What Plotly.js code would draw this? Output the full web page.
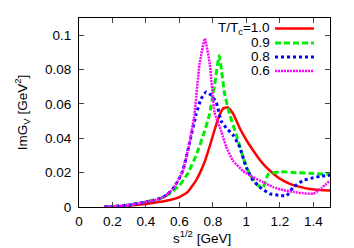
<!DOCTYPE html>
<html><head><meta charset="utf-8">
<script src="https://cdn.plot.ly/plotly-3.0.1.min.js"></script>
<style>html,body{margin:0;padding:0;background:#fff}#c{width:354px;height:248px}</style>
</head><body><div id="c"></div>
<script>
const seriesNames = ["T/T<sub>c</sub>=1.0", "0.9", "0.8", "0.6"];
const xTitle = "s<sup>1/2</sup> [GeV]";
const yTitle = "ImG<sub>V</sub> [GeV<sup>2</sup>]";
const xTickVals = [0, 0.2, 0.4, 0.6, 0.8, 1, 1.2, 1.4];
const xTickText = ["0", "0.2", "0.4", "0.6", "0.8", "1", "1.2", "1.4"];
const yTickVals = [0, 0.02, 0.04, 0.06, 0.08, 0.1];
const yTickText = ["0", "0.02", "0.04", "0.06", "0.08", "0.1"];

const xT10 = [0.15,0.2,0.3,0.4,0.45,0.5,0.55,0.6,0.65,0.7,0.75,0.78,0.83,0.86,0.89,0.92,0.96,1.0,1.04,1.08,1.12,1.16,1.2,1.26,1.32,1.38,1.44,1.5];
const yT10 = [0,0.0002,0.0008,0.0018,0.0025,0.0032,0.0042,0.0058,0.0088,0.0155,0.026,0.035,0.051,0.0572,0.058,0.0545,0.046,0.039,0.033,0.0275,0.023,0.0195,0.0165,0.0135,0.0117,0.0105,0.0099,0.0096];

const xT09 = [0.15,0.2,0.3,0.4,0.5,0.55,0.6,0.65,0.7,0.75,0.78,0.81,0.838,0.87,0.9,0.94,0.98,1.02,1.07,1.1,1.13,1.2,1.3,1.4,1.5];
const yT09 = [0,0.0003,0.0012,0.003,0.0055,0.0085,0.0125,0.0195,0.030,0.044,0.054,0.071,0.088,0.066,0.054,0.042,0.029,0.019,0.0125,0.0115,0.019,0.0205,0.02,0.0195,0.019];

const xT08 = [0.15,0.2,0.3,0.4,0.45,0.5,0.53,0.56,0.59,0.62,0.66,0.7,0.73,0.76,0.79,0.82,0.85,0.88,0.92,0.96,1.0,1.04,1.08,1.14,1.2,1.24,1.28,1.34,1.4,1.45,1.5];
const yT08 = [0,0.0003,0.0012,0.003,0.004,0.0055,0.0075,0.0105,0.015,0.021,0.037,0.054,0.063,0.067,0.065,0.061,0.05,0.046,0.042,0.035,0.023,0.0155,0.0116,0.0077,0.0068,0.0065,0.0115,0.0155,0.017,0.018,0.0185];

const xT06 = [0.15,0.2,0.3,0.4,0.45,0.5,0.53,0.56,0.59,0.62,0.66,0.69,0.72,0.752,0.782,0.81,0.85,0.88,0.92,0.98,1.04,1.1,1.16,1.22,1.28,1.34,1.4,1.45,1.5];
const yT06 = [0,0.0003,0.0012,0.003,0.004,0.0055,0.0075,0.0105,0.015,0.021,0.037,0.054,0.083,0.098,0.083,0.055,0.044,0.035,0.027,0.021,0.0173,0.0145,0.0116,0.0098,0.0088,0.008,0.0077,0.011,0.0155];

const colors = ["#ff0000", "#00ee00", "#0000ff", "#ff00ff"];
const dashes = ["solid", "6px,3px", "3px,3px", "2px,1px"];
const widths = [2.5, 3, 3, 2.5];
const xs = [xT10, xT09, xT08, xT06];
const ys = [yT10, yT09, yT08, yT06];

const traces = xs.map((x, i) => ({
  x: x, y: ys[i], type: "scatter", mode: "lines", name: seriesNames[i],
  line: {color: colors[i], width: widths[i], dash: dashes[i], shape: "spline", smoothing: 0.4},
  showlegend: false
}));

const font = {family: "Liberation Sans, Arial, sans-serif", size: 13.5, color: "#000"};
const legY = [0.944, 0.868, 0.794, 0.720];
const annotations = seriesNames.map((n, i) => ({
  xref: "paper", yref: "paper", x: 0.763, y: legY[i], text: n, showarrow: false,
  xanchor: "right", yanchor: "middle", font: font, borderpad: 0
}));
annotations.push({xref: "paper", yref: "paper", x: 0.49, y: -0.16, text: xTitle, showarrow: false,
  xanchor: "center", yanchor: "middle", font: font, borderpad: 0});
const shapes = seriesNames.map((n, i) => ({
  type: "line", xref: "paper", yref: "paper", x0: 0.781, x1: 0.936, y0: legY[i], y1: legY[i],
  line: {color: colors[i], width: widths[i], dash: dashes[i]}
}));

const layout = {
  width: 354, height: 248,
  margin: {l: 79, r: 24, t: 18, b: 41},
  paper_bgcolor: "#fff", plot_bgcolor: "#fff",
  font: font,
  xaxis: {range: [0, 1.5], tickvals: xTickVals, ticktext: xTickText, ticks: "inside", ticklen: 5,
    ticklabelstandoff: 2,
    showline: true, mirror: "ticks", linecolor: "#000", linewidth: 1, showgrid: false, zeroline: false,
    tickfont: font},
  yaxis: {range: [0, 0.11], tickvals: yTickVals, ticktext: yTickText, ticks: "inside", ticklen: 5,
    ticklabelstandoff: 4,
    showline: true, mirror: "ticks", linecolor: "#000", linewidth: 1, showgrid: false, zeroline: false,
    title: {text: yTitle, font: font, standoff: 14}, tickfont: font},
  annotations: annotations,
  shapes: shapes
};
Plotly.newPlot("c", traces, layout, {displayModeBar: false, staticPlot: true});
</script></body></html>
